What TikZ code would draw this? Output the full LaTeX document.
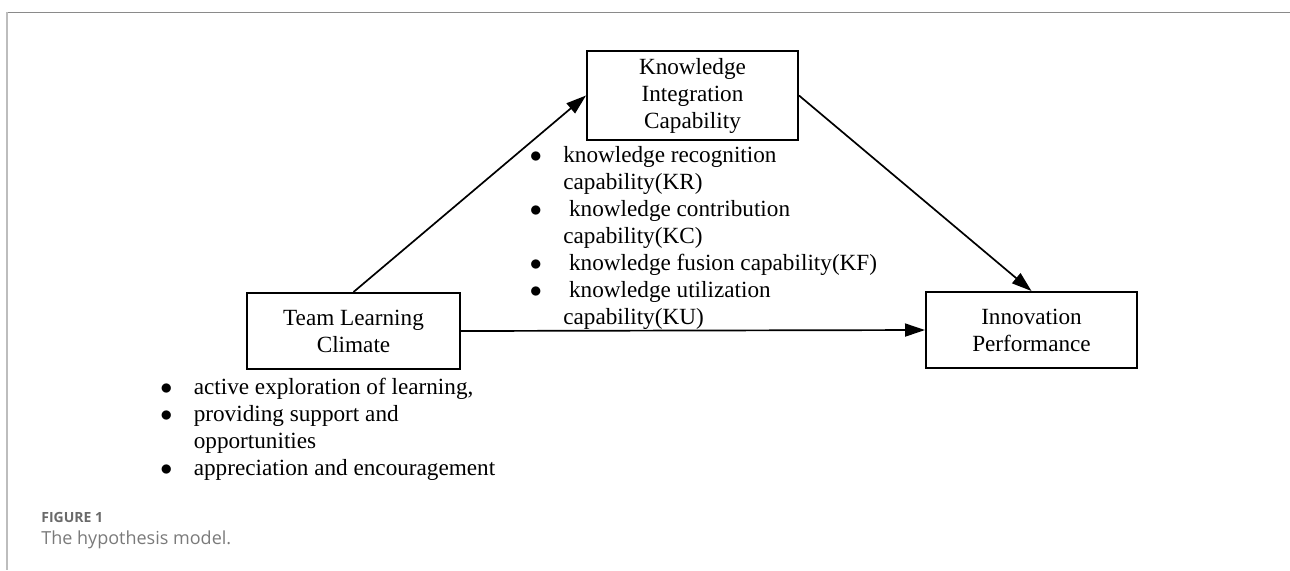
\documentclass[tikz,border=0pt]{standalone}
\usepackage{fontspec}
\setmainfont{Liberation Serif}
\newfontfamily\capfont{Open Sans}
\usetikzlibrary{arrows.meta, positioning}

\definecolor{framegray}{HTML}{8A8A8A}
\definecolor{edgegray}{HTML}{BDBDBD}
\definecolor{labelgray}{HTML}{6A6A6A}
\definecolor{captiongray}{HTML}{7A7A7A}

\tikzset{
    box/.style={draw,
        line width=1pt,
        align=center,
        inner sep=0pt,
        font=\fontsize{11.6pt}{13.5pt}\selectfont},
    bulletlist/.style={anchor=north west,
        inner sep=0pt,
        font=\fontsize{11.6pt}{13.5pt}\selectfont},
    link/.style={-{Triangle[length=10pt,width=6.5pt]}, line width=0.85pt}
}

\begin{document}
\begin{tikzpicture}[x=0.5pt, y=-0.5pt]

\useasboundingbox (0,0) rectangle (1290,570);

% frame of the figure
\draw[framegray, line width=0.5pt] (6,12) -- (1290,12);
\draw[edgegray, line width=1pt] (6.5,12) -- (6.5,570);

\node[box,
    minimum width=106.5pt,
    minimum height=38pt] (climate) at (353.5,331) {Team Learning\\ Climate};

\node[box,
    minimum width=105.5pt,
    minimum height=44.5pt] (integration) at (692.5,95.5) {Knowledge\\ Integration\\ Capability};

\node[box,
    minimum width=105.5pt,
    minimum height=38pt] (performance) at (1031.5,330) {Innovation\\ Performance};

\node[bulletlist] (kic_list) at (529.5,143.5) {%
    \begin{tabular}{@{}l@{\hspace{10.7pt}}l@{}}
    $\bullet$ & knowledge recognition\\
              & capability(KR)\\
    $\bullet$ & \ knowledge contribution\\
              & capability(KC)\\
    $\bullet$ & \ knowledge fusion capability(KF)\\
    $\bullet$ & \ knowledge utilization\\
              & capability(KU)
    \end{tabular}};

\node[bulletlist] (tlc_list) at (160,375) {%
    \begin{tabular}{@{}l@{\hspace{10.7pt}}l@{}}
    $\bullet$ & active exploration of learning,\\
    $\bullet$ & providing support and\\
              & opportunities\\
    $\bullet$ & appreciation and encouragement
    \end{tabular}};

% caption
\node[anchor=base west,
    inner sep=0pt,
    text=labelgray,
    font=\capfont\bfseries\fontsize{7pt}{8pt}\selectfont] (fig_label) at (41,522) {FIGURE 1};

\node[anchor=base west,
    inner sep=0pt,
    text=captiongray,
    font=\capfont\fontsize{9pt}{10pt}\selectfont] (fig_caption) at (41,544) {The hypothesis model.};

\draw[link] (climate.north) -- (integration.west);
\draw[link] (integration.east) -- (performance.north);
\draw[link] (climate.east) -- (performance.west);

\end{tikzpicture}
\end{document}
